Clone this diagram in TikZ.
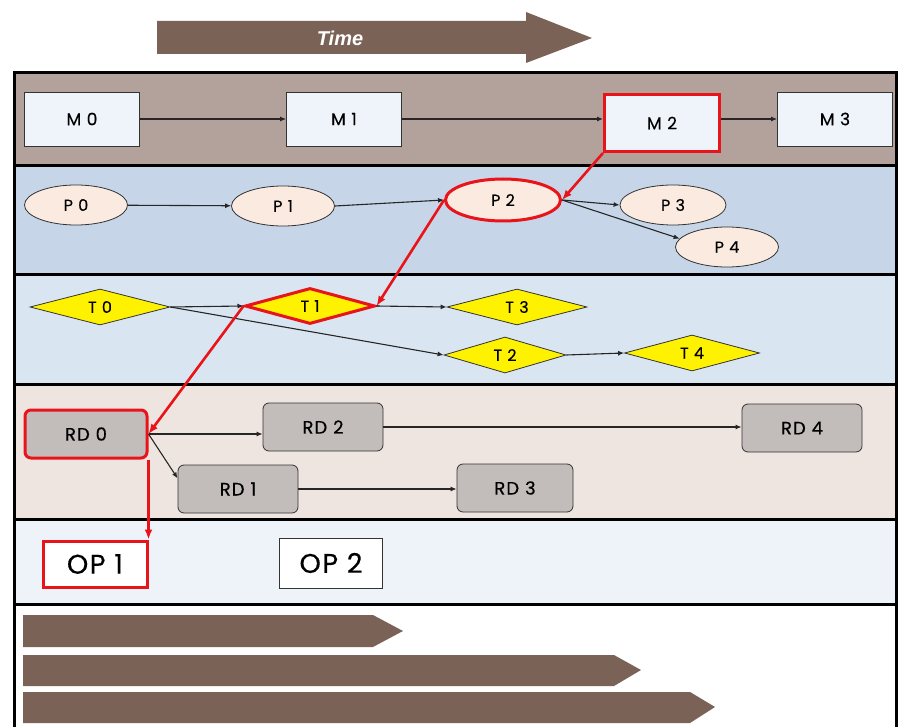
\documentclass[tikz,border=0pt]{standalone}
\usepackage{fontspec}
\setmainfont{Poppins}[LetterSpace=6, FakeBold=0.4]
\newfontfamily\timefont{Liberation Sans}
\usetikzlibrary{shapes.geometric,arrows.meta}

\definecolor{bandM}{HTML}{B3A29B}
\definecolor{bandP}{HTML}{C6D6E8}
\definecolor{bandT}{HTML}{D9E6F1}
\definecolor{bandRD}{HTML}{EFE5E0}
\definecolor{bandOP}{HTML}{EEF3F9}
\definecolor{barbrown}{HTML}{7A6256}
\definecolor{boxfill}{HTML}{EFF4FA}
\definecolor{ellfill}{HTML}{FBEADF}
\definecolor{rdfill}{HTML}{C2BCBB}
\definecolor{hot}{HTML}{E8141A}

\begin{document}
\begin{tikzpicture}[x=1pt, y=-1pt,
    mbox/.style={draw=black!80, thick, fill=boxfill, minimum width=115pt, minimum height=54pt, font=\fontsize{17}{19}\selectfont},
    pnode/.style={ellipse, draw=black!80, thick, fill=ellfill, minimum width=103pt, minimum height=40pt, inner sep=0pt, font=\fontsize{16}{18}\selectfont},
    tnode/.style={diamond, draw=black!80, thick, fill=yellow, minimum width=140pt, minimum height=36pt, inner sep=0pt, font=\fontsize{16}{18}\selectfont},
    rdnode/.style={draw=black!80, thick, rounded corners=6pt, fill=rdfill, minimum width=120pt, minimum height=48pt, font=\fontsize{18}{20}\selectfont},
    opnode/.style={draw=black!80, thick, fill=white, minimum width=103pt, minimum height=48pt, font=\fontsize{27}{29}\selectfont},
    hl/.style={draw=hot, line width=3pt},
    link/.style={-{Latex[length=6pt,width=5pt]}, black!85, line width=1.1pt},
    redlink/.style={-{Latex[length=10pt,width=8pt]}, hot, line width=2.6pt}]
    \useasboundingbox (0,0) rectangle (899,727);

    % swim lanes
    \fill[bandM] (14,73) rectangle (896,166);
    \fill[bandP] (14,166) rectangle (896,275);
    \fill[bandT] (14,275) rectangle (896,384);
    \fill[bandRD] (14,384) rectangle (896,519);
    \fill[bandOP] (14,519) rectangle (896,604);
    \fill[white] (14,604) rectangle (896,727);
    \foreach \y in {166,275,384,519,604}
        \draw[line width=3pt] (14,\y) -- (896,\y);
    \draw[line width=3pt] (14,727) -- (14,73) -- (896,73) -- (896,727);

    % time arrow
    \fill[barbrown] (157,21) -- (526,21) -- (526,12) -- (592,38) -- (526,63) -- (526,54) -- (157,54) -- cycle;
    \node[text=white, font=\timefont\bfseries\itshape\fontsize{20}{22}\selectfont] (time) at (340,38) {Time};

    % bars at the bottom
    \fill[barbrown] (23,615) -- (373,615) -- (403,631) -- (373,647) -- (23,647) -- cycle;
    \fill[barbrown] (23,655) -- (614,655) -- (641,670) -- (614,686) -- (23,686) -- cycle;
    \fill[barbrown] (23,692) -- (690,692) -- (715,707) -- (690,723) -- (23,723) -- cycle;

    \node[mbox] (m0) at (82,119) {M 0};
    \node[mbox] (m1) at (344,119) {M 1};
    \node[mbox, hl, minimum height=57pt] (m2) at (662,123) {M 2};
    \node[mbox] (m3) at (835,119) {M 3};

    \node[pnode] (p0) at (76,205) {P 0};
    \node[pnode] (p1) at (283,206) {P 1};
    \node[pnode, hl, minimum width=115pt, minimum height=42pt] (p2) at (503,200) {P 2};
    \node[pnode, minimum width=106pt] (p3) at (673,205) {P 3};
    \node[pnode] (p4) at (727,247) {P 4};

    \node[tnode] (t0) at (100,307) {T 0};
    \node[tnode, hl, minimum width=130pt] (t1) at (310,306) {T 1};
    \node[tnode] (t3) at (517,307) {T 3};
    \node[tnode, minimum width=122pt] (t2) at (505,355) {T 2};
    \node[tnode, minimum width=135pt] (t4) at (692,353) {T 4};

    \node[rdnode, hl, minimum width=122pt] (rd0) at (86,434) {RD 0};
    \node[rdnode] (rd2) at (323,427) {RD 2};
    \node[rdnode] (rd4) at (802,428) {RD 4};
    \node[rdnode] (rd1) at (238,489) {RD 1};
    \node[rdnode, minimum width=116pt] (rd3) at (515,488) {RD 3};

    \node[opnode, hl, minimum width=104pt, minimum height=46pt] (op1) at (95,564) {OP 1};
    \node[opnode, minimum height=50pt] (op2) at (331,563) {OP 2};

    \draw[link] (m0) -- (m1);
    \draw[link] (m1.east) -- (m2.west |- m1.east);
    \draw[link] (m2.east |- m3.west) -- (m3.west);
    \draw[link] (p0) -- (p1);
    \draw[link] (p1.east) -- (p2.west);
    \draw[link] (p2.east) -- (p3.west);
    \draw[link] (p2.east) -- (p4.170);
    \draw[link] (t0.east) -- (t1.west);
    \draw[link] (t0.east) -- (t2.west);
    \draw[link] (t1.east) -- (t3.west);
    \draw[link] (t2.east) -- (t4.west);
    \draw[link] (rd0.east) -- (rd2.west |- rd0.east);
    \draw[link] (rd0.east) -- (rd1.170);
    \draw[link] (rd2) -- (rd4.west |- rd2.east);
    \draw[link] (rd1) -- (rd3.west |- rd1.east);

    \draw[redlink] (m2.south west) -- (p2.east);
    \draw[redlink] (p2.west) -- (t1.east);
    \draw[redlink] (t1.west) -- (rd0.east);
    \draw[redlink] (rd0.south east) -- (op1.north east);
\end{tikzpicture}
\end{document}
